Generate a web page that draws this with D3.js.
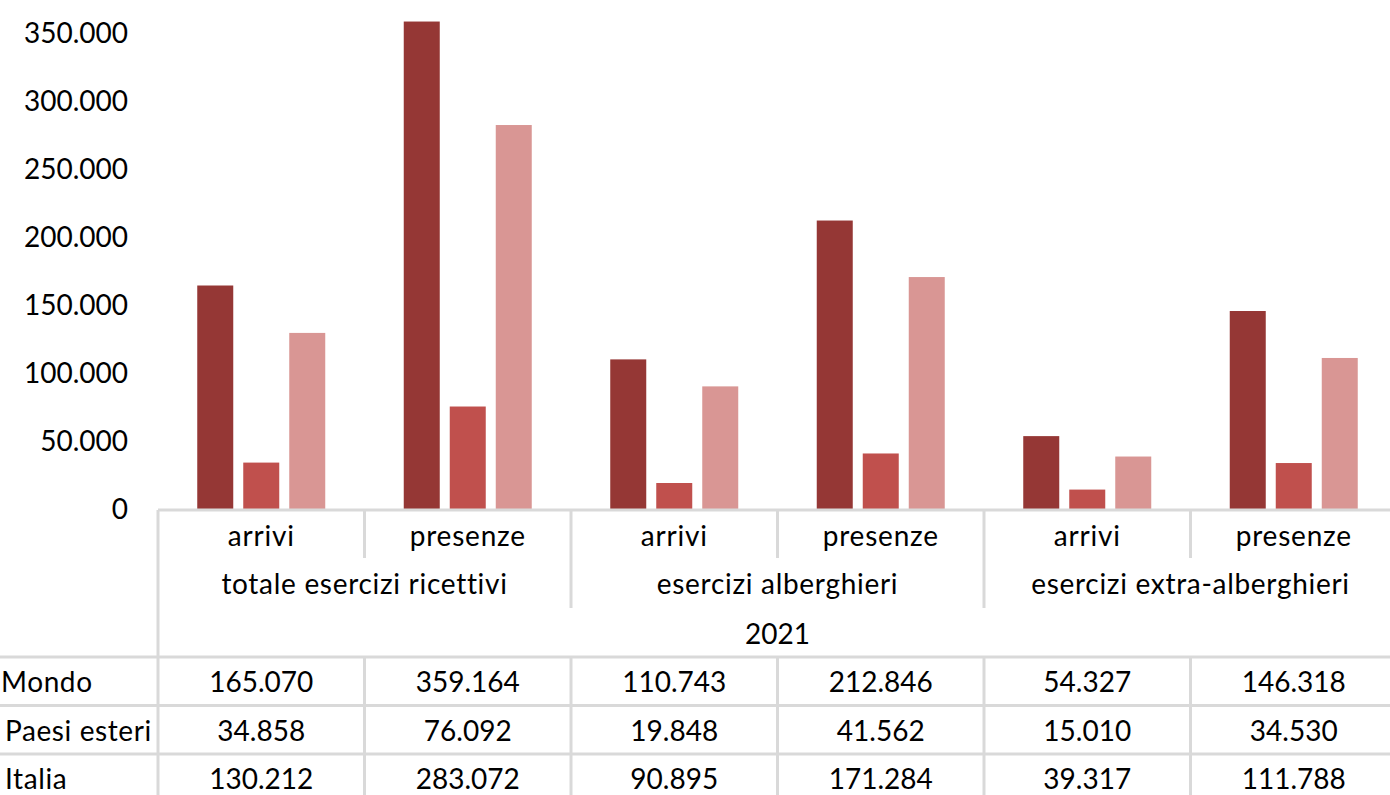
<!DOCTYPE html>
<html>
<head>
<meta charset="utf-8">
<script src="https://cdn.jsdelivr.net/npm/d3@7"></script>
<style>
  body { margin: 0; background: #fff; overflow: hidden; }
  svg { display: block; font-family: Lato, "Open Sans", sans-serif; }
</style>
</head>
<body>
<script>
// chart data
var groups = ["totale esercizi ricettivi", "esercizi alberghieri", "esercizi extra-alberghieri"];
var measures = ["arrivi", "presenze"];
var series = ["Mondo", "Paesi esteri", "Italia"];
var mondo = [165070, 359164, 110743, 212846, 54327, 146318];
var esteri = [34858, 76092, 19848, 41562, 15010, 34530];
var italia = [130212, 283072, 90895, 171284, 39317, 111788];
var yTicks = [0, 50000, 100000, 150000, 200000, 250000, 300000, 350000];
var year = "2021";

var colors = ["#953735", "#c0504d", "#d99694"];
var gridColor = "#d9d9d9";

//Width and height
var w = 1390, h = 795;

var svg = d3.select("body").append("svg")
    .attr("width", w)
    .attr("height", h);

// build the category list: group x measure
var cats = [];
groups.forEach(function (g, gi) {
    measures.forEach(function (m, mi) {
        cats.push({ id: gi * 2 + mi, group: g, measure: m });
    });
});
var values = [mondo, esteri, italia];

var fmt = d3.formatLocale({ decimal: ",", thousands: ".", grouping: [3], currency: ["", "€"] }).format(",d");

var left = 158, right = 1397, base = 510;

var x0 = d3.scaleBand()
    .domain(cats.map(function (d) { return d.id; }))
    .range([left, right]);

var x1 = d3.scaleBand()
    .domain(series)
    .range([0, 128])
    .paddingInner(10 / 46);

// axis max is 400.000, the top of the plot is cropped off
var y = d3.scaleLinear()
    .domain([0, 400000])
    .range([base, base - 400000 * 476 / 350000]);

// y axis labels
var yAxis = d3.axisLeft(y)
    .tickValues(yTicks)
    .tickSize(0)
    .tickPadding(0)
    .tickFormat(function (d) { return fmt(d); });

var ya = svg.append("g")
    .attr("transform", "translate(128,0)")
    .call(yAxis);
ya.select(".domain").remove();
ya.selectAll("text")
    .attr("font-family", "Lato, sans-serif")
    .attr("font-size", 28)
    .attr("fill", "#000");

// bars
var off = (x0.bandwidth() - 128) / 2;
var cat = svg.append("g").selectAll("g")
    .data(cats)
    .enter().append("g")
    .attr("transform", function (d) { return "translate(" + (x0(d.id) + off) + ",0)"; });

cat.selectAll("rect")
    .data(function (d) {
        return series.map(function (s, i) { return { s: s, i: i, v: values[i][d.id] }; });
    })
    .enter().append("rect")
    .attr("x", function (d) { return x1(d.s); })
    .attr("width", x1.bandwidth())
    .attr("y", function (d) { return y(d.v); })
    .attr("height", function (d) { return base - y(d.v); })
    .attr("fill", function (d) { return colors[d.i]; });

// table lines
var lines = svg.append("g")
    .attr("stroke", gridColor)
    .attr("stroke-width", 3);

var rowH = 48.5, row0 = 657;

lines.append("line")
    .attr("x1", left).attr("x2", w).attr("y1", base).attr("y2", base);
lines.append("line")
    .attr("x1", left).attr("x2", left).attr("y1", base).attr("y2", h);

// measure separators (short) and group separators (longer)
cats.forEach(function (d, i) {
    if (i == 0) return;
    var xx = x0(d.id);
    lines.append("line")
        .attr("x1", xx).attr("x2", xx)
        .attr("y1", base).attr("y2", d.measure == "presenze" ? 558 : 608);
    lines.append("line")
        .attr("x1", xx).attr("x2", xx)
        .attr("y1", row0).attr("y2", h);
});

series.forEach(function (s, i) {
    lines.append("line")
        .attr("x1", 0).attr("x2", w)
        .attr("y1", row0 + i * rowH).attr("y2", row0 + i * rowH);
});
lines.append("line")
    .attr("x1", 0).attr("x2", w)
    .attr("y1", row0 + 3 * rowH).attr("y2", row0 + 3 * rowH);

// header text
var txt = svg.append("g")
    .attr("font-size", 28)
    .attr("fill", "#000")
    .attr("text-anchor", "middle")
    .attr("dominant-baseline", "central");

txt.selectAll(".meas")
    .data(cats)
    .enter().append("text")
    .attr("x", function (d) { return x0(d.id) + x0.bandwidth() / 2; })
    .attr("y", 535)
    .attr("letter-spacing", 0.8)
    .text(function (d) { return d.measure; });

txt.selectAll(".grp")
    .data(groups)
    .enter().append("text")
    .attr("x", function (d, i) { return x0(i * 2 + 1); })
    .attr("y", 583)
    .attr("letter-spacing", 0.7)
    .text(function (d) { return d; });

txt.append("text")
    .attr("x", (left + right) / 2)
    .attr("y", 633)
    .text(year);

// row labels
var labelX = [1, 5, 5];
series.forEach(function (s, i) {
    txt.append("text")
        .attr("text-anchor", "start")
        .attr("x", labelX[i])
        .attr("y", row0 + rowH * (i + 0.5))
        .attr("letter-spacing", 0.6)
        .text(s);
    cats.forEach(function (d) {
        txt.append("text")
            .attr("x", x0(d.id) + x0.bandwidth() / 2)
            .attr("y", row0 + rowH * (i + 0.5))
            .text(fmt(values[i][d.id]));
    });
});
</script>
</body>
</html>
